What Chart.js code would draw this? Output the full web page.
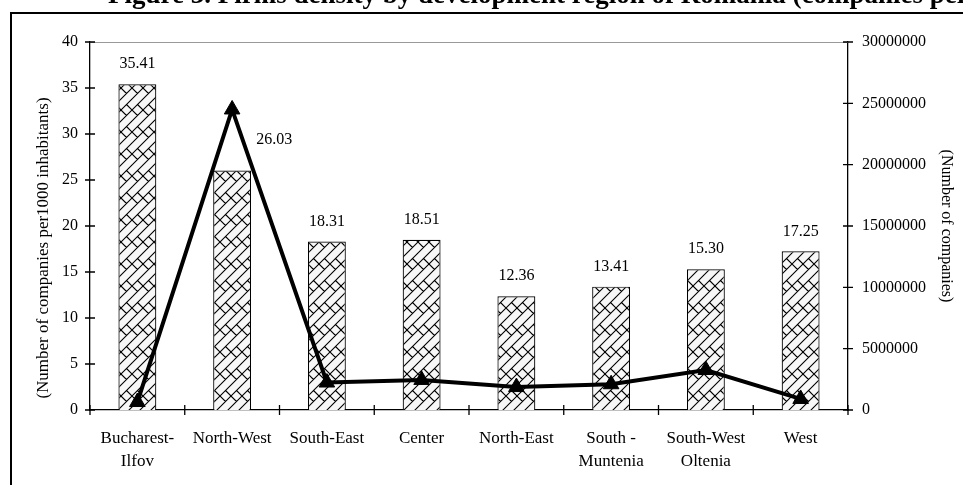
<!DOCTYPE html>
<html>
<head>
<meta charset="utf-8">
<script src="https://cdn.jsdelivr.net/npm/chart.js@4/dist/chart.umd.min.js"></script>
<style>
  html, body { margin: 0; padding: 0; background: #fff; }
  canvas { display: block; }
</style>
</head>
<body>
<canvas id="chart" width="963" height="485"></canvas>
<script>
// data
const categories = [['Bucharest-', 'Ilfov'], 'North-West', 'South-East', 'Center', 'North-East', ['South -', 'Muntenia'], ['South-West', 'Oltenia'], 'West'];
const densityValues = [35.41, 26.03, 18.31, 18.51, 12.36, 13.41, 15.30, 17.25];
const companyValues = [650000, 24500000, 2240000, 2450000, 1870000, 2100000, 3260000, 900000];
const leftTicks = [0, 40, 5];
const rightTicks = [0, 30000000, 5000000];
const titleText = 'Figure 3. Firms density by development region of Romania (companies per 1000 inhabitants)';
const leftTitle = '(Number of companies per1000 inhabitants)';
const rightTitle = '(Number of companies)';

const SERIF = "'Liberation Serif', 'Times New Roman', serif";
Chart.defaults.font.family = SERIF;
Chart.defaults.font.size = 16;
Chart.defaults.color = '#000';

// diagonal brick fill for the bars
function brickPattern() {
  const s = 22, h = s / 2, q = s / 4;
  const t = document.createElement('canvas');
  t.width = s; t.height = s;
  const c = t.getContext('2d');
  c.fillStyle = '#f7f7f7';
  c.fillRect(0, 0, s, s);
  c.strokeStyle = '#000';
  c.lineWidth = 1.1;
  c.beginPath();
  for (let k = 0; k <= 2 * s; k += h) { c.moveTo(k + h, -h); c.lineTo(k - s - h, s + h); }
  for (let ox = -s; ox <= s; ox += s) {
    for (let oy = -s; oy <= s; oy += s) {
      c.moveTo(ox, oy); c.lineTo(ox + q, oy + q);
      c.moveTo(ox + h, oy); c.lineTo(ox + h + q, oy + q);
      c.moveTo(ox + q, oy + h + q); c.lineTo(ox + h, oy + s);
      c.moveTo(ox + h + q, oy + h + q); c.lineTo(ox + s, oy + s);
    }
  }
  c.stroke();
  return c.createPattern(t, 'repeat');
}

const decor = {
  id: 'decor',
  afterDatasetsDraw(chart) {
    const ctx = chart.ctx;
    ctx.save();
    // bar value labels
    ctx.font = '16px ' + SERIF;
    ctx.fillStyle = '#000';
    ctx.textAlign = 'center';
    ctx.textBaseline = 'middle';
    chart.getDatasetMeta(0).data.forEach((bar, i) => {
      let x = bar.x, y = bar.y - 20;
      if (i === 1) { x += 42; y -= 11; } // moved off the line in the original
      ctx.fillText(densityValues[i].toFixed(2), x, y);
    });
    ctx.restore();
  },
  afterDraw(chart) {
    const ctx = chart.ctx;
    const a = chart.chartArea;
    const sx = chart.scales.x, sy = chart.scales.y, sy1 = chart.scales.y1;
    ctx.save();
    // plot area top edge
    ctx.strokeStyle = '#999';
    ctx.lineWidth = 1;
    ctx.beginPath();
    ctx.moveTo(a.left, a.top + 0.5); ctx.lineTo(a.right, a.top + 0.5);
    ctx.stroke();
    // cross tick marks
    ctx.strokeStyle = '#000';
    ctx.lineWidth = 1.3;
    ctx.beginPath();
    sy.ticks.forEach((t, i) => {
      const y = sy.getPixelForTick(i);
      ctx.moveTo(a.left - 5, y); ctx.lineTo(a.left + 5, y);
    });
    sy1.ticks.forEach((t, i) => {
      const y = sy1.getPixelForTick(i);
      ctx.moveTo(a.right - 5, y); ctx.lineTo(a.right + 5, y);
    });
    const n = categories.length;
    for (let i = 0; i <= n; i++) {
      const x = sx.getPixelForValue(i - 0.5);
      ctx.moveTo(x, a.bottom - 5); ctx.lineTo(x, a.bottom + 5);
    }
    ctx.stroke();
    // axis titles
    ctx.fillStyle = '#000';
    ctx.textAlign = 'center';
    ctx.textBaseline = 'middle';
    ctx.font = '17px ' + SERIF;
    ctx.save();
    ctx.translate(44, 248);
    ctx.rotate(-Math.PI / 2);
    ctx.fillText(leftTitle, 0, 0);
    ctx.restore();
    ctx.font = '16px ' + SERIF;
    ctx.save();
    ctx.translate(946, 226);
    ctx.rotate(Math.PI / 2);
    ctx.fillText(rightTitle, 0, 0);
    ctx.restore();
    // figure title, cut off by the top edge
    ctx.font = 'bold 27px ' + SERIF;
    ctx.textAlign = 'left';
    ctx.textBaseline = 'alphabetic';
    ctx.fillText(titleText, 108, 3);
    // outer frame
    ctx.lineWidth = 2;
    ctx.beginPath();
    ctx.moveTo(11, 490); ctx.lineTo(11, 13); ctx.lineTo(970, 13);
    ctx.stroke();
    ctx.restore();
  }
};

new Chart(document.getElementById('chart'), {
  data: {
    labels: categories,
    datasets: [
      {
        type: 'bar',
        data: densityValues,
        yAxisID: 'y',
        backgroundColor: brickPattern(),
        borderColor: '#000',
        borderWidth: 1.2,
        categoryPercentage: 1,
        barPercentage: 0.4,
        order: 2
      },
      {
        type: 'line',
        data: companyValues,
        yAxisID: 'y1',
        borderColor: '#000',
        backgroundColor: '#000',
        borderWidth: 4,
        pointStyle: 'triangle',
        pointRadius: 9,
        pointBorderWidth: 1,
        tension: 0,
        order: 1
      }
    ]
  },
  options: {
    responsive: false,
    animation: false,
    layout: { padding: { top: 42, left: 0, right: 0, bottom: 0 } },
    plugins: { legend: { display: false }, tooltip: { enabled: false } },
    scales: {
      x: {
        grid: { display: false, drawTicks: false },
        border: { display: true, color: '#000', width: 1.3 },
        ticks: { font: { size: 17, lineHeight: 1.35 }, padding: 17, maxRotation: 0, autoSkip: false },
        afterFit(s) { s.height = 75; }
      },
      y: {
        position: 'left',
        min: leftTicks[0], max: leftTicks[1],
        ticks: { stepSize: leftTicks[2], padding: 12 },
        grid: { display: false, drawTicks: false },
        border: { display: true, color: '#000', width: 1.3 },
        afterFit(s) { s.width = 90; }
      },
      y1: {
        position: 'right',
        min: rightTicks[0], max: rightTicks[1],
        ticks: { stepSize: rightTicks[2], padding: 14, callback: v => String(v) },
        grid: { display: false, drawTicks: false },
        border: { display: true, color: '#000', width: 1.3 },
        afterFit(s) { s.width = 115; }
      }
    }
  },
  plugins: [decor]
});
</script>
</body>
</html>
